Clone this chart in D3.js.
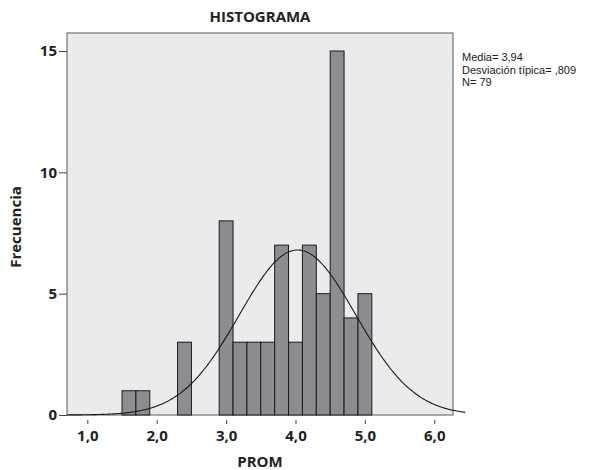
<!DOCTYPE html>
<html lang="es">
	<head>
		<meta charset="UTF-8" />
		<title>Histograma</title>
		<style>
			body { margin: 0; background: #fff; }
			text { font-family: "Open Sans", "Noto Sans", sans-serif; fill: #222; }
			.stats text { font-family: "Liberation Sans", Arial, sans-serif; }
		</style>
	</head>
	<body>
		<svg width="598" height="470" id="svg"></svg>
		<script src="https://cdn.jsdelivr.net/npm/d3@7/dist/d3.min.js"></script>
		<script>
			// bins (lower edge, upper edge, count)
			const binStart = [1.5, 1.7, 2.3, 2.9, 3.1, 3.3, 3.5, 3.7, 3.9, 4.1, 4.3, 4.5, 4.7, 4.9]
			const binEnd = [1.7, 1.9, 2.5, 3.1, 3.3, 3.5, 3.7, 3.9, 4.1, 4.3, 4.5, 4.7, 4.9, 5.1]
			const counts = [1, 1, 3, 8, 3, 3, 3, 7, 3, 7, 5, 15, 4, 5]

			const xTicks = [1, 2, 3, 4, 5, 6]
			const yTicks = [0, 5, 10, 15]
			const statLines = ["Media= 3,94", "Desviación típica= ,809", "N= 79"]

			// normal curve as drawn (centre, spread, peak height, x extent)
			const curveMean = 4.03
			const curveSd = 0.84
			const curvePeak = 6.8
			const curveFrom = 0.707
			const curveTo = 6.45

			const svg = d3.select("#svg")
			const box = { left: 67, top: 33, right: 453, bottom: 415 }

			const x = d3.scaleLinear().domain([0.707, 6.27]).range([box.left, box.right])
			const y = d3.scaleLinear().domain([0, 15]).range([box.bottom, 51])

			// plot background + frame
			svg.append("rect")
				.attr("x", box.left)
				.attr("y", box.top)
				.attr("width", box.right - box.left)
				.attr("height", box.bottom - box.top)
				.attr("fill", "#ebebee")
				.attr("stroke", "#5a5a5a")
				.attr("stroke-width", 1)

			const bins = counts.map((c, i) => ({ x0: binStart[i], x1: binEnd[i], n: c }))

			svg.append("g")
				.selectAll("rect")
				.data(bins)
				.join("rect")
				.attr("x", (d) => x(d.x0))
				.attr("y", (d) => y(d.n))
				.attr("width", (d) => x(d.x1) - x(d.x0))
				.attr("height", (d) => y(0) - y(d.n))
				.attr("fill", "#8d8d91")
				.attr("stroke", "#1a1a1a")
				.attr("stroke-width", 1)

			// normal curve
			const pts = d3.range(curveFrom, curveTo + 0.001, 0.02).map((v) => {
				const z = (v - curveMean) / curveSd
				return [v, curvePeak * Math.exp((-z * z) / 2)]
			})
			svg.append("path")
				.datum(pts)
				.attr("fill", "none")
				.attr("stroke", "#1a1a1a")
				.attr("stroke-width", 1.1)
				.attr("d", d3.line().x((d) => x(d[0])).y((d) => y(d[1])).curve(d3.curveBasis))

			// y axis
			const yAxis = svg.append("g")
				.attr("transform", `translate(${box.left},0)`)
				.call(d3.axisLeft(y).tickValues(yTicks).tickSize(8).tickPadding(2).tickFormat(d3.format("d")))
			yAxis.select(".domain").remove()
			yAxis.selectAll("line").attr("stroke", "#444")
			yAxis.selectAll("text")
				.attr("font-size", 15)
				.attr("font-weight", "bold")
				.attr("fill", "#222")

			// x axis (ticks sit a little below the frame)
			const xAxis = svg.append("g")
				.attr("transform", `translate(0,${box.bottom + 5})`)
				.call(d3.axisBottom(x).tickValues(xTicks).tickSize(4).tickPadding(6).tickFormat((d) => d3.format(".1f")(d).replace(".", ",")))
			xAxis.select(".domain").remove()
			xAxis.selectAll("line").attr("stroke", "#444")
			xAxis.selectAll("text")
				.attr("font-size", 15)
				.attr("font-weight", "bold")
				.attr("fill", "#222")

			// titles
			svg.append("text")
				.attr("x", (box.left + box.right) / 2)
				.attr("y", 22)
				.attr("text-anchor", "middle")
				.attr("font-size", 15)
				.attr("font-weight", "bold")
				.text("HISTOGRAMA")

			svg.append("text")
				.attr("x", (box.left + box.right) / 2)
				.attr("y", 467)
				.attr("text-anchor", "middle")
				.attr("font-size", 15)
				.attr("font-weight", "bold")
				.text("PROM")

			svg.append("text")
				.attr("transform", `translate(21,${(box.top + box.bottom) / 2 + 3}) rotate(-90)`)
				.attr("text-anchor", "middle")
				.attr("font-size", 15)
				.attr("font-weight", "bold")
				.text("Frecuencia")

			// stats text
			svg.append("g")
				.attr("class", "stats")
				.selectAll("text")
				.data(statLines)
				.join("text")
				.attr("x", 462)
				.attr("y", (d, i) => 61 + i * 12.5)
				.attr("font-size", 11)
				.text((d) => d)
		</script>
	</body>
</html>
